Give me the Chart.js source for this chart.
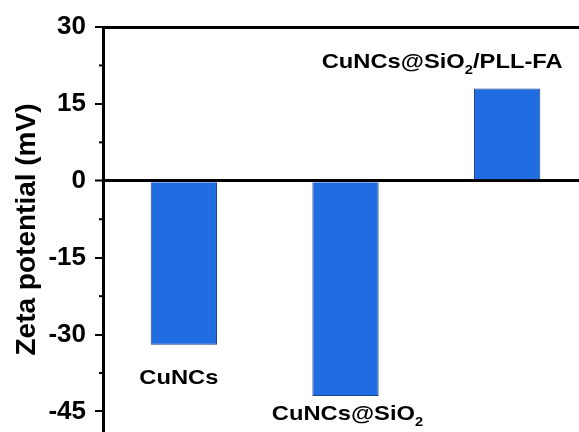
<!DOCTYPE html>
<html>
<head>
<meta charset="utf-8">
<script src="https://cdn.jsdelivr.net/npm/chart.js@4"></script>
<style>
  html, body { margin: 0; padding: 0; background: #fff; overflow: hidden; width: 579px; height: 432px; }
  #wrap { position: absolute; left: 0; top: 0; width: 588px; height: 432px; }
</style>
</head>
<body>
<div id="wrap"><canvas id="chart"></canvas></div>
<script>
// samples and zeta potential values (mV)
const samples = ['CuNCs', 'CuNCs@SiO2', 'CuNCs@SiO2/PLL-FA'];
const zetaValues = [-32, -42, 18];

// y axis
const yMin = -49;
const yMax = 30;
const majorTicks = [-45, -30, -15, 0, 15, 30];
const minorTicks = [-37.5, -22.5, -7.5, 7.5, 22.5];

// label text with subscript parts
const sampleLabels = [
    [{ t: 'CuNCs' }],
    [{ t: 'CuNCs@SiO' }, { t: '2', sub: true }],
    [{ t: 'CuNCs@SiO' }, { t: '2', sub: true }, { t: '/PLL-FA' }]
];

const FONT = '"Liberation Sans", Arial, sans-serif';

// draw text with subscripts, centered at x (a little wider than normal, like the original)
function drawRichText(ctx, parts, cx, cy, size, stretch) {
    const mainFont = 'bold ' + size + 'px ' + FONT;
    const subFont = 'bold ' + Math.round(size * 0.62) + 'px ' + FONT;
    let total = 0;
    parts.forEach(p => {
        ctx.font = p.sub ? subFont : mainFont;
        total += ctx.measureText(p.t).width;
    });
    ctx.save();
    ctx.translate(cx, cy);
    ctx.scale(stretch, 1);
    let x = -total / 2;
    ctx.textBaseline = 'middle';
    ctx.textAlign = 'left';
    ctx.fillStyle = '#000';
    parts.forEach(p => {
        ctx.font = p.sub ? subFont : mainFont;
        ctx.fillText(p.t, x, p.sub ? size * 0.38 : 0);
        x += ctx.measureText(p.t).width;
    });
    ctx.restore();
}

// minor ticks and bar labels
const extrasPlugin = {
    id: 'extras',
    afterDraw(chart) {
        const ctx = chart.ctx;
        const y = chart.scales.y;
        const x = chart.scales.x;
        const left = chart.chartArea.left;
        ctx.save();
        ctx.strokeStyle = '#000';
        ctx.lineWidth = 2;
        minorTicks.forEach(v => {
            const py = y.getPixelForValue(v);
            ctx.beginPath();
            ctx.moveTo(left - 4, py);
            ctx.lineTo(left, py);
            ctx.stroke();
        });

        // labels placed next to the bars
        const offsets = [
            { dx: -5, dy: 33 },
            { dx: 2, dy: 18 },
            { dx: -65, dy: -26 }
        ];
        zetaValues.forEach((v, i) => {
            const px = x.getPixelForValue(i) + offsets[i].dx;
            const py = y.getPixelForValue(v) + offsets[i].dy;
            drawRichText(ctx, sampleLabels[i], px, py, 21, 1.13);
        });
        ctx.restore();
    }
};

new Chart(document.getElementById('chart'), {
    type: 'bar',
    data: {
        labels: samples,
        datasets: [{
            data: zetaValues,
            backgroundColor: '#1f6de0',
            borderColor: '#1a3f86',
            borderWidth: 1,
            barPercentage: 0.41,
            categoryPercentage: 1
        }]
    },
    options: {
        responsive: true,
        maintainAspectRatio: false,
        animation: false,
        layout: { padding: { top: 19, left: 0, right: 0, bottom: 0 } },
        plugins: {
            legend: { display: false },
            tooltip: { enabled: false }
        },
        scales: {
            x: {
                position: 'top',
                grid: { display: false },
                ticks: { display: false },
                border: { display: true, color: '#000', width: 3 }
            },
            y: {
                min: yMin,
                max: yMax,
                afterBuildTicks: s => {
                    s.ticks = majorTicks.map(v => ({ value: v }));
                },
                afterFit: s => {
                    s.width = 103;
                    s.paddingTop = 0;
                    s.paddingBottom = 0;
                },
                ticks: {
                    color: '#000',
                    padding: 9,
                    font: { family: FONT, size: 26, weight: 'bold' }
                },
                grid: {
                    drawOnChartArea: true,
                    drawTicks: true,
                    tickLength: 8,
                    tickWidth: 2,
                    tickColor: '#000',
                    color: c => (c.tick && c.tick.value === 0 ? '#000' : 'rgba(0,0,0,0)'),
                    lineWidth: c => (c.tick && c.tick.value === 0 ? 3 : 0)
                },
                border: { display: true, color: '#000', width: 3 },
                title: {
                    display: true,
                    text: 'Zeta potential (mV)',
                    color: '#000',
                    padding: { top: 10, bottom: 0 },
                    font: { family: FONT, size: 28, weight: 'bold', lineHeight: 1.2 }
                }
            }
        }
    },
    plugins: [extrasPlugin]
});
</script>
</body>
</html>
